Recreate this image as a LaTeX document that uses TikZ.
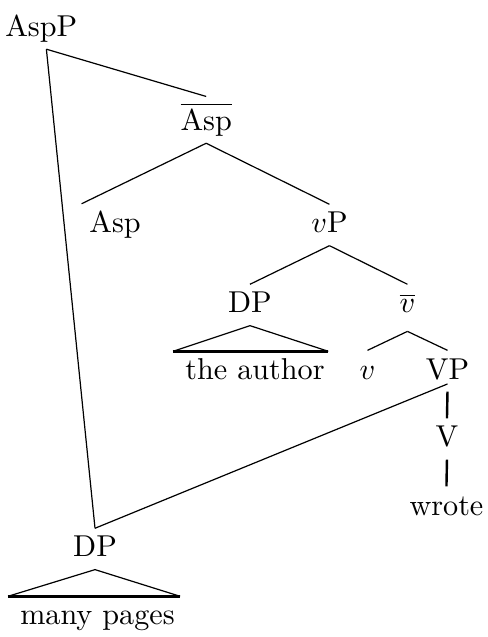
\documentclass[tikz,border=0pt]{standalone}
\begin{document}
\begin{tikzpicture}[every node/.style={anchor=base, inner sep=1pt, text height=8.3pt, text depth=3pt},
        roof/.style={line width=1pt}]
        \useasboundingbox (0,0) rectangle (5.68,-7.415);

        \node (aspp) at (0.48,-0.425) {AspP};
        \node (asp_bar) [text height=10.1pt] at (2.40,-1.52) {$\overline{\mbox{Asp}}$};
        \node (asp) at (1.34,-2.706) {Asp};
        \node (vp) at (3.835,-2.712) {$v$P};

        \node (dp_subj) at (2.91,-3.643) {DP};
        \node (v_bar) [text depth=4.9pt] at (4.743,-3.643) {$\overline{v}$};
        \node (the_author) at (2.968,-4.423) {the author};
        \node (v) at (4.278,-4.412) {$v$};
        \node (vp_low) at (5.209,-4.412) {VP};
        \node (verb) at (5.203,-5.203) {V};
        \node (wrote) at (5.197,-5.995) {wrote};

        \node (dp_obj) at (1.106,-6.483) {DP};
        \node (many_pages) at (1.135,-7.275) {many pages};

        \draw ([xshift=0.06cm]aspp.south) -- (asp_bar.north);
        \draw ([xshift=0.06cm]aspp.south) -- (dp_obj.north);
        \draw (asp_bar.south) -- ([xshift=-0.05cm]asp.north west);
        \draw (asp_bar.south) -- (vp.north);
        \draw (vp.south) -- (dp_subj.north);
        \draw (vp.south) -- (v_bar.north);
        \draw (v_bar.south) -- (v.north);
        \draw (v_bar.south) -- (vp_low.north);
        \draw ([yshift=0.09cm]vp_low.south) -- (dp_obj.north);

        \draw[thick] (vp_low.south) -- (verb.north);
        \draw[thick] (verb.south) -- (wrote.north);

        % roofs
        \draw ([xshift=-0.1cm]the_author.north west) -- (dp_subj.south) -- (the_author.north east);
        \draw[roof] ([xshift=-0.1cm]the_author.north west) -- (the_author.north east);
        \draw ([xshift=-0.1cm]many_pages.north west) -- (dp_obj.south) -- ([xshift=0.02cm]many_pages.north east);
        \draw[roof] ([xshift=-0.1cm]many_pages.north west) -- ([xshift=0.02cm]many_pages.north east);
    \end{tikzpicture}
\end{document}
